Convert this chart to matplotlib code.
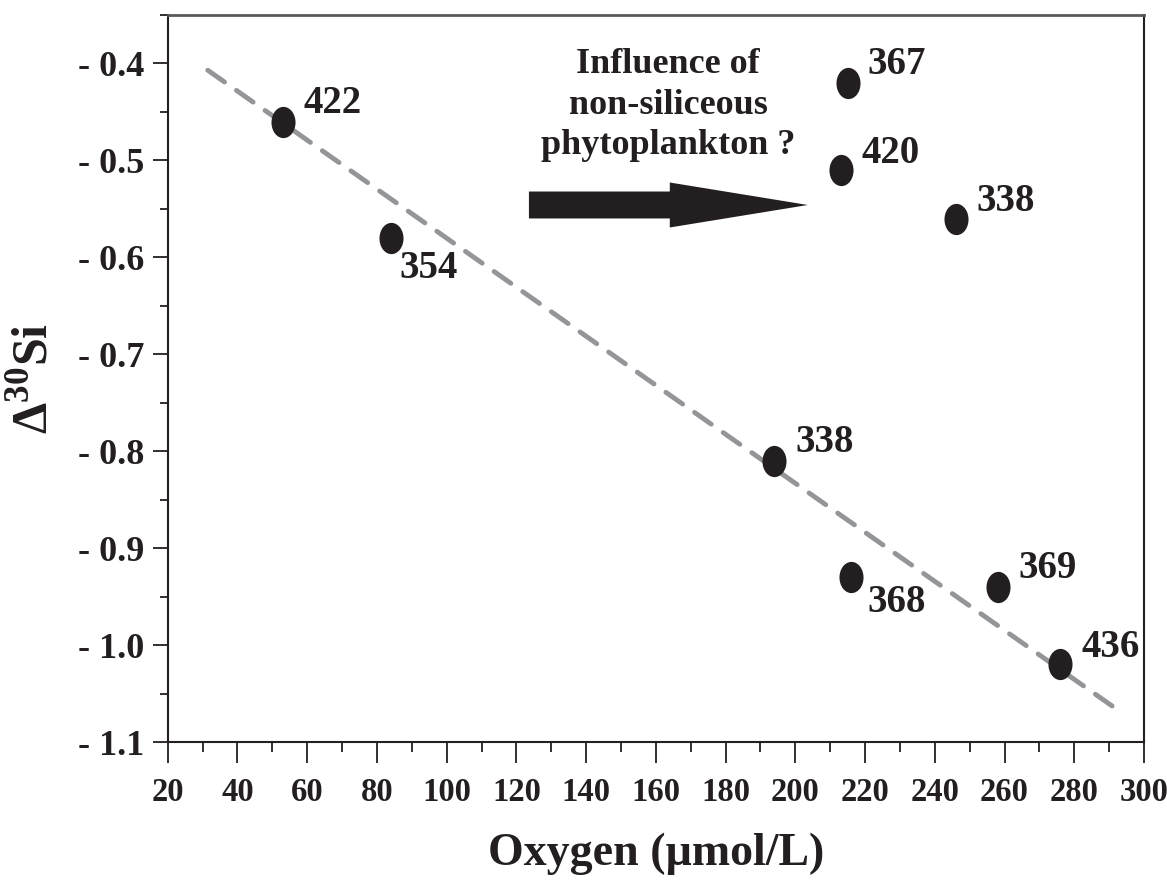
import matplotlib
matplotlib.use("Agg")
import matplotlib.pyplot as plt
import numpy as np
from matplotlib.path import Path
from matplotlib.transforms import Affine2D
from matplotlib.ticker import MultipleLocator, FixedLocator, FuncFormatter
from matplotlib.patches import FancyArrow

plt.rcParams['font.family'] = ['Liberation Serif', 'DejaVu Serif']
plt.rcParams['font.weight'] = 'bold'
plt.rcParams['mathtext.fontset'] = 'custom'
plt.rcParams['mathtext.rm'] = 'Liberation Serif:bold'
plt.rcParams['mathtext.bf'] = 'Liberation Serif:bold'

# ---- data ----
oxygen = [53, 84, 194, 216, 258, 276, 215, 213, 246]
delta_si = [-0.46, -0.58, -0.81, -0.93, -0.94, -1.02, -0.42, -0.51, -0.56]
point_labels = ['422', '354', '338', '368', '369', '436', '367', '420', '338']
# label offsets (points) relative to marker
label_offsets = [(15, 13), (6, -22), (15, 13), (12, -18), (15, 13), (15, 12),
                 (14, 13), (15, 12), (15, 12)]

fit_x = [31.5, 292.5]
fit_y = [-0.407, -1.067]

arrow_x = [123.6, 203.6]
arrow_y = -0.546

annot_text = "Influence of\nnon-siliceous\nphytoplankton ?"

x_ticks = list(range(20, 301, 20))
y_ticks = [-1.1, -1.0, -0.9, -0.8, -0.7, -0.6, -0.5, -0.4]

ink = '#231f20'

fig = plt.figure(figsize=(11.67, 8.82), dpi=100)
ax = fig.add_axes([0.1437, 0.1587, 0.9803 - 0.1437, 0.983 - 0.1587])

ax.set_xlim(20, 300)
ax.set_ylim(-1.1, -0.35)

# regression line
ax.plot(fit_x, fit_y, color='#939598', lw=3.5, dashes=(4.2, 3.0),
        dash_capstyle='round', zorder=2)

# elliptical markers
circ = Path.unit_circle()
ell = Affine2D().scale(0.77, 1.0).transform_path(circ)
ax.plot(oxygen, delta_si, ls='none', marker=ell, markersize=22.5,
        color=ink, markeredgewidth=0, zorder=3)

for x, y, lab, (dx, dy) in zip(oxygen, delta_si, point_labels, label_offsets):
    ax.annotate(lab, (x, y), xytext=(dx, dy), textcoords='offset points',
                ha='left', va='center', fontsize=28, fontweight='bold',
                color=ink)

# annotation text and arrow
ax.text(163.5, -0.443, annot_text, ha='center', va='center', fontsize=26,
        fontweight='bold', color=ink, linespacing=1.3)
ax.add_patch(FancyArrow(arrow_x[0], arrow_y, arrow_x[1] - arrow_x[0], 0,
                        width=0.0278, head_width=0.0464, head_length=39.6,
                        length_includes_head=True, color=ink, lw=0))

# ticks
ax.xaxis.set_major_locator(FixedLocator(x_ticks))
ax.xaxis.set_minor_locator(MultipleLocator(10))
ax.yaxis.set_major_locator(FixedLocator(y_ticks))
ax.yaxis.set_minor_locator(FixedLocator([-1.05, -0.95, -0.85, -0.75, -0.65,
                                         -0.55, -0.45, -0.35]))
ax.yaxis.set_major_formatter(FuncFormatter(lambda v, p: "- %.1f" % abs(v)))

ax.tick_params(axis='x', which='major', direction='out', length=15, width=1.3,
               pad=10, labelsize=23.5, colors=ink)
ax.tick_params(axis='x', which='minor', direction='out', length=7.5, width=1.3,
               colors=ink)
ax.tick_params(axis='y', which='major', direction='out', length=11, width=1.3,
               pad=6, labelsize=26, colors=ink)
ax.tick_params(axis='y', which='minor', direction='out', length=5.5, width=1.3,
               colors=ink)
for lab in ax.get_xticklabels() + ax.get_yticklabels():
    lab.set_fontweight('bold')

for s in ['left', 'bottom', 'right']:
    ax.spines[s].set_linewidth(1.5)
    ax.spines[s].set_color(ink)
ax.spines['top'].set_linewidth(2)
ax.spines['top'].set_color('#58595b')

ax.set_xlabel('Oxygen (µmol/L)', fontsize=33, fontweight='bold', color=ink,
              labelpad=18)
ax.set_ylabel(r'Δ$^{\mathregular{30}}$Si', fontsize=36, fontweight='bold',
              color=ink, labelpad=14)

fig.savefig('out.png', dpi=100)
